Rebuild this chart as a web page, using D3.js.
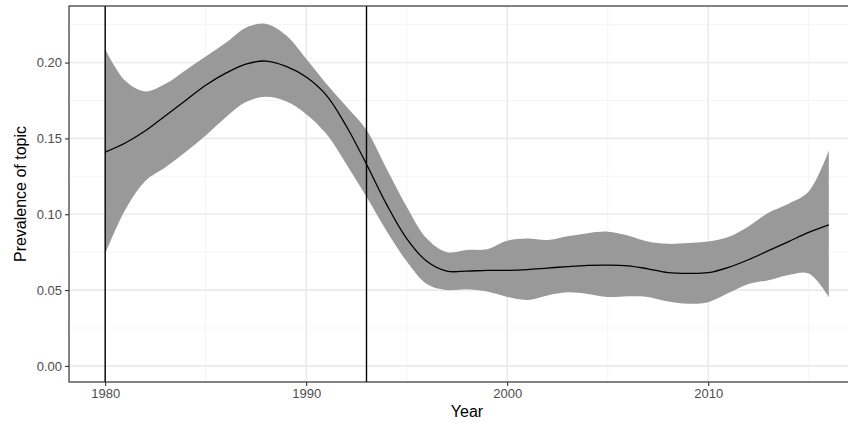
<!DOCTYPE html>
<html>
<head>
<meta charset="utf-8">
<script src="https://cdn.jsdelivr.net/npm/d3@7"></script>
<style>
	body { margin: 0; background: #fff; }
	svg { display: block; font-family: "Liberation Sans", Arial, sans-serif; }
</style>
</head>
<body>
<svg id="chart" width="848" height="423"></svg>
<script>
const years = d3.range(1980, 2017);
const meanValues = [
	0.141, 0.147, 0.155, 0.165, 0.175, 0.185, 0.193, 0.199, 0.201, 0.1975,
	0.1905, 0.1785, 0.158, 0.133, 0.1065, 0.084, 0.069, 0.0625, 0.0625, 0.063,
	0.063, 0.0635, 0.0645, 0.0655, 0.0663, 0.0665, 0.066, 0.064, 0.0615, 0.061,
	0.0615, 0.065, 0.070, 0.076, 0.082, 0.088, 0.093
];
const upperValues = [
	0.209, 0.188, 0.181, 0.186, 0.195, 0.204, 0.213, 0.223, 0.2255, 0.218,
	0.2025, 0.186, 0.171, 0.1555, 0.130, 0.105, 0.084, 0.075, 0.0765, 0.077,
	0.0825, 0.084, 0.083, 0.0855, 0.0875, 0.0885, 0.086, 0.082, 0.0805, 0.081,
	0.082, 0.085, 0.092, 0.101, 0.107, 0.115, 0.142
];
const lowerValues = [
	0.074, 0.103, 0.122, 0.131, 0.141, 0.152, 0.164, 0.174, 0.1775, 0.1745,
	0.166, 0.153, 0.133, 0.1115, 0.089, 0.069, 0.054, 0.050, 0.0505, 0.049,
	0.0455, 0.0435, 0.0465, 0.0485, 0.0475, 0.0455, 0.046, 0.0455, 0.0425, 0.041,
	0.042, 0.048, 0.054, 0.0565, 0.060, 0.061, 0.0455
];
const markerYears = [1980, 1993];
const xTicks = [1980, 1990, 2000, 2010];
const xMinor = [1985, 1995, 2005, 2015];
const yTicks = [0, 0.05, 0.10, 0.15, 0.20];
const yMinor = [0.025, 0.075, 0.125, 0.175, 0.225];

const rows = years.map((yr, i) => ({
	year: yr, mean: meanValues[i], upper: upperValues[i], lower: lowerValues[i]
}));

const panel = { left: 69, top: 6, right: 865, bottom: 382 };
const svg = d3.select("#chart");

const x = d3.scaleLinear().domain([1978.2, 2017.8]).range([panel.left, panel.right]);
const y = d3.scaleLinear().domain([-0.0106, 0.2373]).range([panel.bottom, panel.top]);

svg.append("defs").append("clipPath").attr("id", "clip")
	.append("rect")
	.attr("x", panel.left).attr("y", panel.top)
	.attr("width", panel.right - panel.left).attr("height", panel.bottom - panel.top);

// grid
const grid = svg.append("g").attr("clip-path", "url(#clip)");
grid.selectAll(".ymin").data(yMinor).enter().append("line")
	.attr("x1", panel.left).attr("x2", panel.right)
	.attr("y1", d => y(d)).attr("y2", d => y(d))
	.attr("stroke", "#f2f2f2").attr("stroke-width", 0.8);
grid.selectAll(".xmin").data(xMinor).enter().append("line")
	.attr("y1", panel.top).attr("y2", panel.bottom)
	.attr("x1", d => x(d)).attr("x2", d => x(d))
	.attr("stroke", "#f2f2f2").attr("stroke-width", 0.8);
grid.selectAll(".ymaj").data(yTicks).enter().append("line")
	.attr("x1", panel.left).attr("x2", panel.right)
	.attr("y1", d => y(d)).attr("y2", d => y(d))
	.attr("stroke", "#ebebeb").attr("stroke-width", 1.6);
grid.selectAll(".xmaj").data(xTicks).enter().append("line")
	.attr("y1", panel.top).attr("y2", panel.bottom)
	.attr("x1", d => x(d)).attr("x2", d => x(d))
	.attr("stroke", "#ebebeb").attr("stroke-width", 1.6);

// ribbon + line
const plot = svg.append("g").attr("clip-path", "url(#clip)");
plot.append("path")
	.datum(rows)
	.attr("fill", "#999999")
	.attr("d", d3.area()
		.curve(d3.curveCatmullRom.alpha(0.5))
		.x(d => x(d.year))
		.y0(d => y(d.lower))
		.y1(d => y(d.upper)));

plot.append("path")
	.datum(rows)
	.attr("fill", "none")
	.attr("stroke", "#000")
	.attr("stroke-width", 1.3)
	.attr("d", d3.line()
		.curve(d3.curveCatmullRom.alpha(0.5))
		.x(d => x(d.year))
		.y(d => y(d.mean)));

plot.selectAll(".vline").data(markerYears).enter().append("line")
	.attr("x1", d => x(d)).attr("x2", d => x(d))
	.attr("y1", panel.top).attr("y2", panel.bottom)
	.attr("stroke", "#000").attr("stroke-width", 1.4);

// panel border
svg.append("rect")
	.attr("x", panel.left).attr("y", panel.top)
	.attr("width", panel.right - panel.left).attr("height", panel.bottom - panel.top)
	.attr("fill", "none").attr("stroke", "#333").attr("stroke-width", 1.2);

// axes
const xAxis = d3.axisBottom(x).tickValues(xTicks).tickFormat(d3.format("d"))
	.tickSizeInner(4).tickSizeOuter(0).tickPadding(3);
const yAxis = d3.axisLeft(y).tickValues(yTicks).tickFormat(d3.format(".2f"))
	.tickSizeInner(4).tickSizeOuter(0).tickPadding(3);

const gx = svg.append("g").attr("transform", `translate(0,${panel.bottom})`).call(xAxis);
const gy = svg.append("g").attr("transform", `translate(${panel.left},0)`).call(yAxis);
[gx, gy].forEach(g => {
	g.select(".domain").remove();
	g.selectAll(".tick line").attr("stroke", "#333").attr("stroke-width", 1.1);
	g.selectAll(".tick text").attr("fill", "#4d4d4d").style("font-size", "13px")
		.style("font-family", "Liberation Sans, Arial, sans-serif");
});

svg.append("text")
	.attr("x", (panel.left + panel.right) / 2).attr("y", 417)
	.attr("text-anchor", "middle")
	.style("font-size", "16px").attr("fill", "#000")
	.text("Year");

svg.append("text")
	.attr("transform", `translate(26,${(panel.top + panel.bottom) / 2}) rotate(-90)`)
	.attr("text-anchor", "middle")
	.style("font-size", "16px").attr("fill", "#000")
	.text("Prevalence of topic");
</script>
</body>
</html>
